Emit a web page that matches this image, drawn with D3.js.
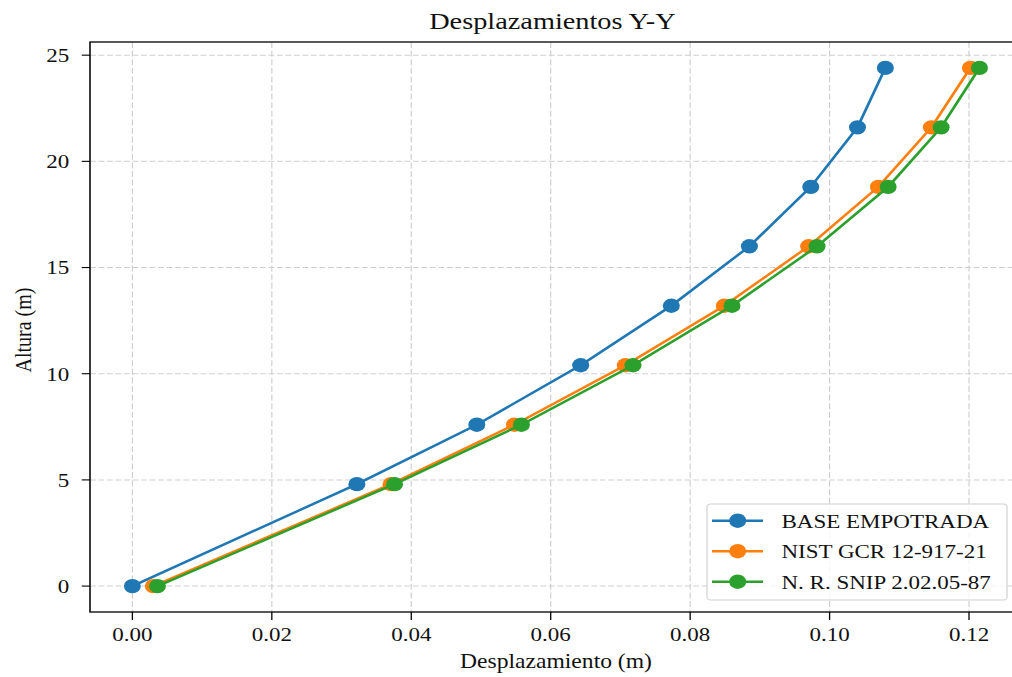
<!DOCTYPE html>
<html>
<head>
<meta charset="utf-8">
<script src="https://cdn.jsdelivr.net/npm/d3@7"></script>
<style>
  html, body { margin: 0; padding: 0; background: #fff; }
  svg { display: block; overflow: hidden; }
  text { font-family: "Liberation Serif", "Times New Roman", serif; fill: #111; }
</style>
</head>
<body>
<div id="chart"></div>
<script>
// alturas de piso (m) y desplazamientos (m)
var alturas = [0, 4.8, 7.6, 10.4, 13.2, 16.0, 18.8, 21.6, 24.4];
var baseEmpotrada = [0.0000, 0.0322, 0.0494, 0.0643, 0.0773, 0.0885, 0.0973, 0.1040, 0.1080];
var nistGcr = [0.0030, 0.0371, 0.0548, 0.0707, 0.0849, 0.0970, 0.1070, 0.1146, 0.1202];
var snip = [0.0036, 0.0376, 0.0558, 0.0718, 0.0860, 0.0982, 0.1084, 0.1160, 0.1215];

var seriesNames = ['BASE EMPOTRADA', 'NIST GCR 12-917-21', 'N. R. SNIP 2.02.05-87'];
var seriesColors = ['#1f77b4', '#ff7f0e', '#2ca02c'];
var xTicks = [0.00, 0.02, 0.04, 0.06, 0.08, 0.10, 0.12];
var yTicks = [0, 5, 10, 15, 20, 25];

// the picture is a bit wider than the original figure, so draw narrow and stretch
var stretch = 1.18;
var outW = 1012, outH = 677;
var W = outW / stretch, H = outH;

var axLeft = 90 / stretch, axRight = 1022 / stretch, axTop = 42, axBottom = 612;

var svg = d3.select('#chart').append('svg')
  .attr('width', outW)
  .attr('height', outH)
  .attr('viewBox', '0 0 ' + W + ' ' + H)
  .attr('preserveAspectRatio', 'none');

var x = d3.scaleLinear().domain([-0.00608, 0.1276]).range([axLeft, axRight]);
var y = d3.scaleLinear().domain([-1.22, 25.62]).range([axBottom, axTop]);

// grid
var grid = svg.append('g');
grid.selectAll('.gx').data(xTicks).enter().append('line')
  .attr('x1', function(d) { return x(d); }).attr('x2', function(d) { return x(d); })
  .attr('y1', axTop).attr('y2', axBottom)
  .attr('stroke', '#cfcfcf').attr('stroke-width', 1).attr('stroke-dasharray', '6,2.6');
grid.selectAll('.gy').data(yTicks).enter().append('line')
  .attr('x1', axLeft).attr('x2', axRight)
  .attr('y1', function(d) { return y(d); }).attr('y2', function(d) { return y(d); })
  .attr('stroke', '#cfcfcf').attr('stroke-width', 1).attr('stroke-dasharray', '5,2.2');

// series
var data = [baseEmpotrada, nistGcr, snip];
var line = d3.line()
  .x(function(d) { return x(d[0]); })
  .y(function(d) { return y(d[1]); });

data.forEach(function(vals, i) {
  var pts = vals.map(function(v, j) { return [v, alturas[j]]; });
  var g = svg.append('g');
  g.append('path')
    .attr('d', line(pts))
    .attr('fill', 'none')
    .attr('stroke', seriesColors[i])
    .attr('stroke-width', 2.4);
  g.selectAll('circle').data(pts).enter().append('circle')
    .attr('cx', function(d) { return x(d[0]); })
    .attr('cy', function(d) { return y(d[1]); })
    .attr('r', 7.2)
    .attr('fill', seriesColors[i]);
});

// spines
svg.append('rect')
  .attr('x', axLeft).attr('y', axTop)
  .attr('width', axRight - axLeft).attr('height', axBottom - axTop)
  .attr('fill', 'none').attr('stroke', '#000').attr('stroke-width', 1.3);

// ticks
var xAxis = svg.append('g');
xAxis.selectAll('line').data(xTicks).enter().append('line')
  .attr('x1', function(d) { return x(d); }).attr('x2', function(d) { return x(d); })
  .attr('y1', axBottom).attr('y2', axBottom + 8)
  .attr('stroke', '#000').attr('stroke-width', 1.1);
xAxis.selectAll('text').data(xTicks).enter().append('text')
  .attr('x', function(d) { return x(d); })
  .attr('y', 641.5)
  .attr('text-anchor', 'middle')
  .attr('font-size', 19.5)
  .text(function(d) { return d3.format('.2f')(d); });

var yAxis = svg.append('g');
yAxis.selectAll('line').data(yTicks).enter().append('line')
  .attr('x1', axLeft - 7).attr('x2', axLeft)
  .attr('y1', function(d) { return y(d); }).attr('y2', function(d) { return y(d); })
  .attr('stroke', '#000').attr('stroke-width', 1.1);
yAxis.selectAll('text').data(yTicks).enter().append('text')
  .attr('x', axLeft - 17.6)
  .attr('y', function(d) { return y(d) + 6.8; })
  .attr('text-anchor', 'end')
  .attr('font-size', 19.5)
  .text(function(d) { return d; });

// labels
svg.append('text')
  .attr('x', (axLeft + axRight) / 2 - 3).attr('y', 29.3)
  .attr('text-anchor', 'middle').attr('font-size', 24)
  .text('Desplazamientos Y-Y');
svg.append('text')
  .attr('x', (axLeft + axRight) / 2).attr('y', 668)
  .attr('text-anchor', 'middle').attr('font-size', 20)
  .text('Desplazamiento (m)');
svg.append('text')
  .attr('transform', 'translate(' + (31 / stretch) + ',330) rotate(-90)')
  .attr('text-anchor', 'middle').attr('font-size', 20)
  .text('Altura (m)');

// legend
var lg = svg.append('g');
lg.append('rect')
  .attr('x', 707 / stretch).attr('y', 504)
  .attr('width', (1007 - 707) / stretch).attr('height', 96)
  .attr('rx', 3).attr('ry', 3)
  .attr('fill', 'rgba(255,255,255,0.8)')
  .attr('stroke', '#d0d0d0').attr('stroke-width', 1);
seriesNames.forEach(function(name, i) {
  var ry = 520.7 + i * 30.5;
  lg.append('line')
    .attr('x1', 712 / stretch).attr('x2', 763 / stretch)
    .attr('y1', ry).attr('y2', ry)
    .attr('stroke', seriesColors[i]).attr('stroke-width', 2.4);
  lg.append('circle')
    .attr('cx', 737.7 / stretch).attr('cy', ry).attr('r', 7.2)
    .attr('fill', seriesColors[i]);
  lg.append('text')
    .attr('x', 781.5 / stretch).attr('y', ry + 7)
    .attr('font-size', 19.5)
    .text(name);
});
</script>
</body>
</html>
